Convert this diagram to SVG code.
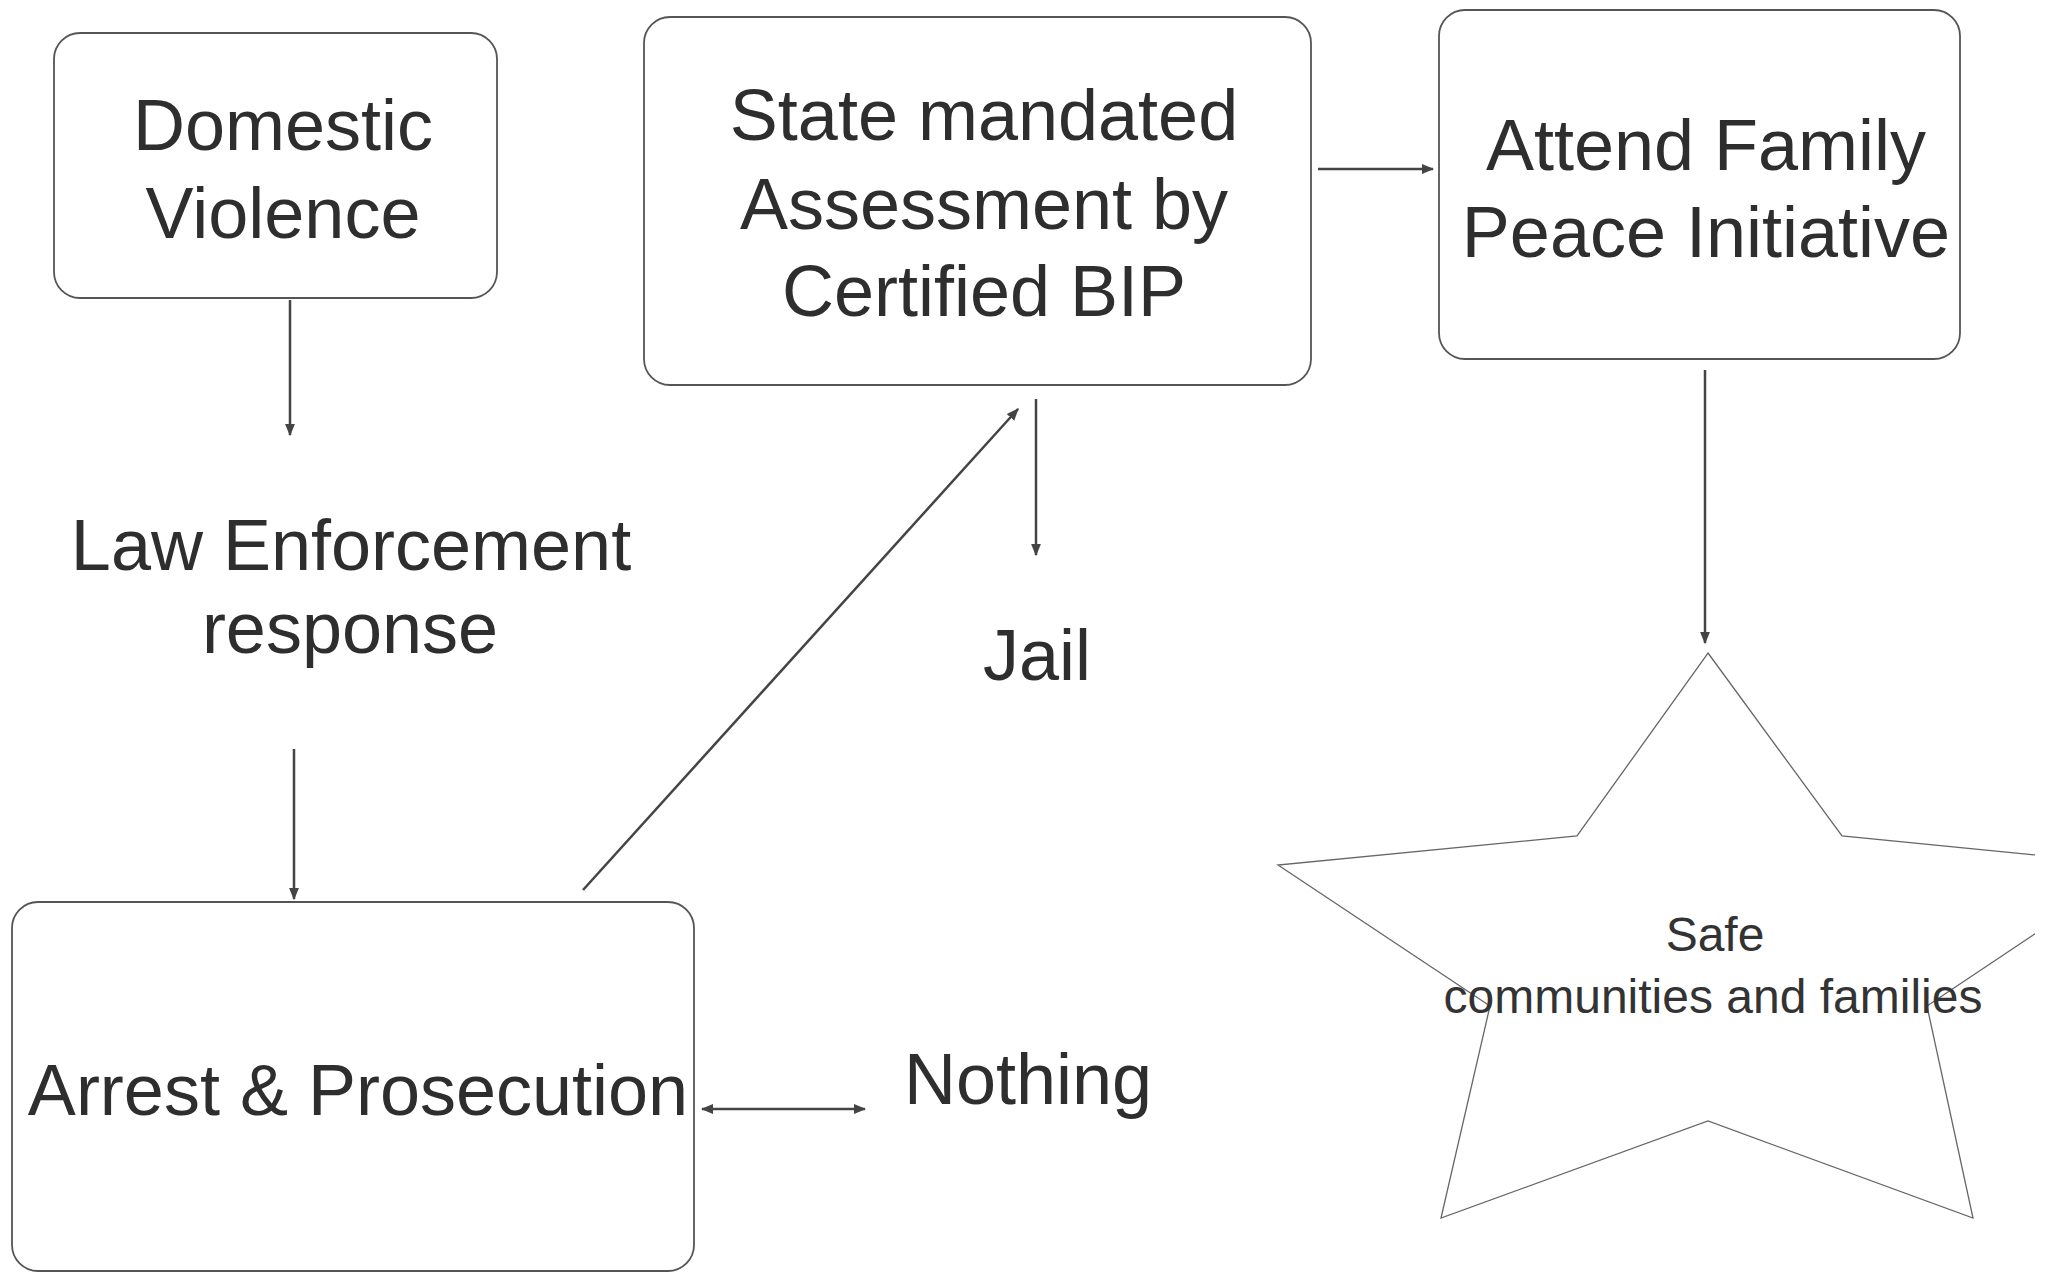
<svg xmlns="http://www.w3.org/2000/svg" width="2045" height="1273" viewBox="0 0 2045 1273">
<style>
.box{fill:#fff;stroke:#555;stroke-width:1.8}
.t{font-family:"Liberation Sans",Arial,sans-serif;font-size:72px;fill:#2e2e2e;text-anchor:middle}
.ts{font-family:"Liberation Sans",Arial,sans-serif;font-size:48px;fill:#333;text-anchor:middle}
.c{stroke:#444;stroke-width:2.5;fill:none}
.star{fill:#fff;stroke:#666;stroke-width:1.3}
</style>
<defs>
<marker id="ah" viewBox="0 0 10 10" refX="9" refY="5" markerWidth="5" markerHeight="5" orient="auto-start-reverse" markerUnits="strokeWidth">
<path d="M0,1 L10,5 L0,9 z" fill="#444"/>
</marker>
<clipPath id="clipR"><rect x="0" y="0" width="2035" height="1273"/></clipPath>
</defs>
<rect width="2045" height="1273" fill="#fff"/>
<g id="node-domestic">
<rect class="box" x="54" y="33" width="443" height="265" rx="26"/>
<text class="t" x="283" y="150">Domestic</text>
<text class="t" x="283" y="238">Violence</text>
</g>
<g id="node-law">
<text class="t" x="351" y="570">Law Enforcement</text>
<text class="t" x="350" y="653">response</text>
</g>
<g id="node-arrest">
<rect class="box" x="12" y="902" width="682" height="369" rx="26"/>
<text class="t" x="358" y="1115">Arrest &amp; Prosecution</text>
</g>
<g id="node-nothing">
<text class="t" x="1028" y="1104">Nothing</text>
</g>
<g id="node-state">
<rect class="box" x="644" y="17" width="667" height="368" rx="26"/>
<text class="t" x="984" y="140">State mandated</text>
<text class="t" x="984" y="229">Assessment by</text>
<text class="t" x="984" y="316">Certified BIP</text>
</g>
<g id="node-jail">
<text class="t" x="1037" y="680">Jail</text>
</g>
<g id="node-attend">
<rect class="box" x="1439" y="10" width="521" height="349" rx="26"/>
<text class="t" x="1706" y="170">Attend Family</text>
<text class="t" x="1706" y="257">Peace Initiative</text>
</g>
<g id="node-safe">
<polygon class="star" clip-path="url(#clipR)" points="1708,653 1842,836 2138,865 1927,1006 1973,1218 1708,1121 1441,1218 1490,1006 1278,865 1577,836"/>
<text class="ts" x="1715" y="951">Safe</text>
<text class="ts" x="1713" y="1013">communities and families</text>
</g>
<g id="connectors">
<line class="c" x1="290" y1="300" x2="290" y2="435" marker-end="url(#ah)"/>
<line class="c" x1="294" y1="749" x2="294" y2="899" marker-end="url(#ah)"/>
<line class="c" x1="583" y1="890" x2="1018" y2="409" marker-end="url(#ah)"/>
<line class="c" x1="1036" y1="399" x2="1036" y2="555" marker-end="url(#ah)"/>
<line class="c" x1="1318" y1="169" x2="1433" y2="169" marker-end="url(#ah)"/>
<line class="c" x1="1705" y1="370" x2="1705" y2="643" marker-end="url(#ah)"/>
<line class="c" x1="702" y1="1109" x2="865" y2="1109" marker-start="url(#ah)" marker-end="url(#ah)"/>
</g>
</svg>
